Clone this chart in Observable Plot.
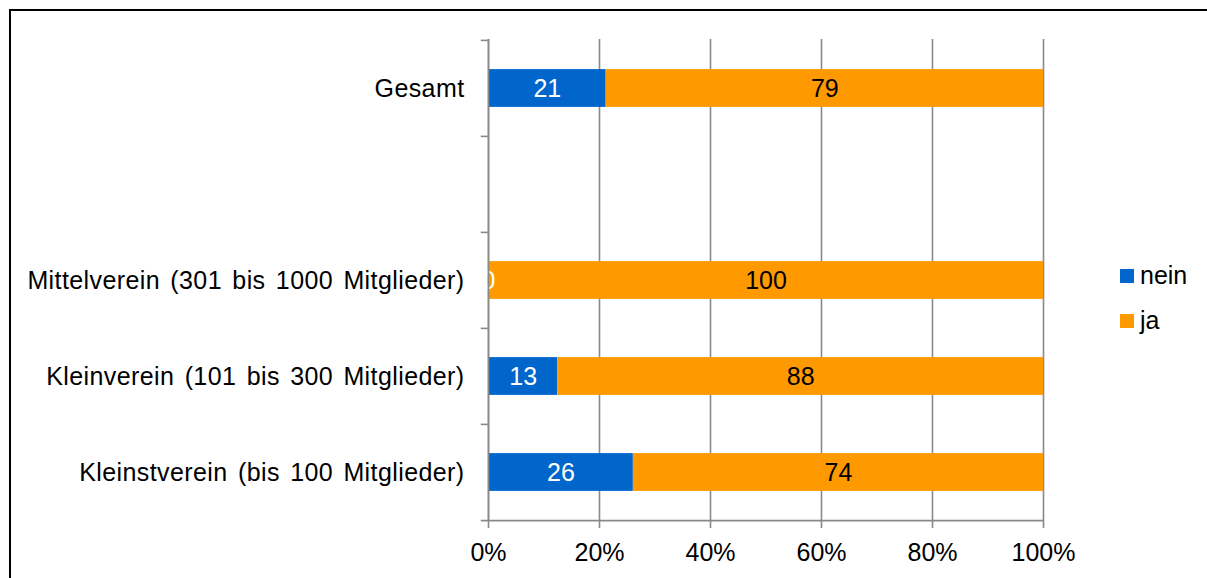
<!DOCTYPE html>
<html><head><meta charset="utf-8">
<script src="https://cdn.jsdelivr.net/npm/d3@7"></script>
<script src="https://cdn.jsdelivr.net/npm/@observablehq/plot@0.6"></script>
<style>
body{margin:0;overflow:hidden;background:#fff;font-family:"Liberation Sans",Arial,sans-serif;}
#wrap{position:relative;width:1207px;height:578px;overflow:hidden;}
#chart{position:absolute;left:0;top:0;}
#frame{position:absolute;left:9px;top:9px;width:1400px;height:800px;border:2px solid #000;box-sizing:border-box;pointer-events:none;}
#legend{position:absolute;left:1120px;top:253px;font-size:25px;color:#000;}
.item{display:flex;align-items:center;height:45px;}
.sw{width:14px;height:14px;margin-right:6px;flex:none;}
[aria-label="y-axis tick label"]{letter-spacing:0.4px;word-spacing:3px;}
</style></head>
<body><div id="wrap"><div id="chart"></div><div id="legend"></div><div id="frame"></div></div>
<script>
const categories = ["Gesamt", " ", "Mittelverein (301 bis 1000 Mitglieder)", "Kleinverein (101 bis 300 Mitglieder)", "Kleinstverein (bis 100 Mitglieder)"];
const series = ["nein", "ja"];
const seriesColors = ["#0066CC", "#FF9900"];
const labelColors = ["#ffffff", "#000000"];
const neinValues = [21.2, null, 0, 12.5, 26.1];
const jaValues = [78.8, null, 100, 87.5, 73.9];
const xTicks = [0, 20, 40, 60, 80, 100];

const rows = [];
categories.forEach((c, i) => {
  [neinValues, jaValues].forEach((vals, s) => {
    if (vals[i] != null) rows.push({category: c, series: series[s], value: vals[i]});
  });
});
const colorOf = s => seriesColors[series.indexOf(s)];
const labelOf = s => labelColors[series.indexOf(s)];

const W = 1207, H = 578, mt = 39, mb = 58, ml = 488, mr = 164;
const bw = (H - mt - mb) / categories.length;
const gray = "#898989";
const font = "'Liberation Sans', Arial, sans-serif";

const chart = Plot.plot({
  width: W, height: H,
  marginLeft: ml, marginRight: mr, marginTop: mt, marginBottom: mb,
  x: {domain: [0, 100], label: null},
  y: {domain: categories, padding: 0, label: null},
  color: {type: "identity"},
  style: {fontFamily: font, fontSize: "25px", color: "#000", background: "transparent"},
  marks: [
    Plot.gridX(xTicks, {stroke: gray, strokeOpacity: 1, strokeWidth: 1.6}),
    Plot.barX(rows, Plot.stackX({x: "value", y: "category", fill: d => colorOf(d.series), insetTop: (bw - 38) / 2, insetBottom: (bw - 38) / 2})),
    Plot.text(rows, Plot.stackX({x: "value", y: "category", text: d => String(Math.round(d.value)), fill: d => labelOf(d.series), fontSize: 25})),
    Plot.ruleY(categories, {y: d => d, x1: -1.3, x2: 0, dy: -bw / 2, stroke: gray, strokeWidth: 1.6}),
    Plot.ruleY([categories[categories.length - 1]], {y: d => d, x1: -1.3, x2: 100, dy: bw / 2, stroke: gray, strokeWidth: 1.6}),
    Plot.ruleX([0], {stroke: gray, strokeWidth: 1.6}),
    Plot.axisX(xTicks, {tickFormat: d => d + "%", tickSize: 8, tickPadding: 15, stroke: gray, strokeWidth: 1.6, fill: "#000", fontSize: 25, label: null}),
    Plot.axisY({tickSize: 0, tickPadding: 24, fill: "#000", fontSize: 25, label: null})
  ]
});
document.getElementById("chart").appendChild(chart);

const legend = document.getElementById("legend");
series.forEach((s, i) => {
  const item = document.createElement("div");
  item.className = "item";
  const sw = document.createElement("div");
  sw.className = "sw";
  sw.style.background = seriesColors[i];
  const t = document.createElement("span");
  t.textContent = s;
  item.appendChild(sw);
  item.appendChild(t);
  legend.appendChild(item);
});
</script>
</body></html>
